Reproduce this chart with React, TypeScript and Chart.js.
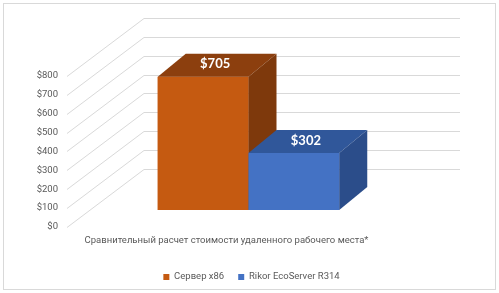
import React, { useEffect, useRef } from "react";
import { Chart, registerables } from "chart.js";

Chart.register(...registerables);

// ---- data ----
const categories = ["Сравнительный расчет стоимости удаленного рабочего места*"];
const seriesNames = ["Сервер x86", "Rikor EcoServer R314"];
const serverX86Values = [705];
const rikorValues = [302];
const yTickValues = [0, 100, 200, 300, 400, 500, 600, 700, 800];

// ---- styles ----
const FONT = "Roboto, 'Liberation Sans', sans-serif";
const LABEL_FONT = "Lato, Roboto, sans-serif";
const TEXT = "#595959";
const GRID = "#d9d9d9";
const faces = [
  { front: "#C55A11", top: "#8C3F0E", side: "#7E390C" },
  { front: "#4472C4", top: "#30579A", side: "#2B4D8A" },
];
const BAR_DX = 28;
const BAR_DY = -23;
const WALL_DX = 77;
const WALL_DY = -58;
const FRONT_SHIFT = 17; // front (axis) plane lies below the bar plane
const WALL_RIGHT = 460;

const gridPlugin = {
  id: "grid3d",
  beforeDraw(chart: any) {
    const ctx = chart.ctx;
    ctx.save();
    ctx.fillStyle = "#ffffff";
    ctx.fillRect(0, 0, chart.width, chart.height);
    ctx.strokeStyle = "#d9d9d9";
    ctx.lineWidth = 1;
    ctx.strokeRect(3.5, 3.5, chart.width - 7, chart.height - 7);
    ctx.restore();
  },
  beforeDatasetsDraw(chart: any) {
    const ctx = chart.ctx;
    const ys = chart.scales.y;
    const x0 = chart.chartArea.left;
    ctx.save();
    ctx.strokeStyle = GRID;
    ctx.lineWidth = 1;
    yTickValues.forEach((v) => {
      const fy = Math.round(ys.getPixelForValue(v) + FRONT_SHIFT) + 0.5;
      const by = fy + WALL_DY;
      ctx.beginPath();
      ctx.moveTo(x0, fy);
      ctx.lineTo(x0 + WALL_DX, by);
      ctx.lineTo(WALL_RIGHT, by);
      ctx.stroke();
    });
    ctx.restore();
  },
  afterDatasetsDraw(chart: any) {
    const ctx = chart.ctx;
    ctx.save();
    chart.data.datasets.forEach((ds: any, di: number) => {
      const meta = chart.getDatasetMeta(di);
      const f = faces[di];
      meta.data.forEach((bar: any, i: number) => {
        const { x, y, base, width } = bar.getProps(["x", "y", "base", "width"], true);
        const l = x - width / 2;
        const r = x + width / 2;
        // front
        ctx.fillStyle = f.front;
        ctx.fillRect(l, y, width, base - y);
        // top
        ctx.fillStyle = f.top;
        ctx.beginPath();
        ctx.moveTo(l, y);
        ctx.lineTo(r, y);
        ctx.lineTo(r + BAR_DX, y + BAR_DY);
        ctx.lineTo(l + BAR_DX, y + BAR_DY);
        ctx.closePath();
        ctx.fill();
        // side
        ctx.fillStyle = f.side;
        ctx.beginPath();
        ctx.moveTo(r, y);
        ctx.lineTo(r + BAR_DX, y + BAR_DY);
        ctx.lineTo(r + BAR_DX, base + BAR_DY);
        ctx.lineTo(r, base);
        ctx.closePath();
        ctx.fill();
        // label
        ctx.fillStyle = "#ffffff";
        ctx.font = `bold 13px ${LABEL_FONT}`;
        ctx.textAlign = "center";
        ctx.textBaseline = "middle";
        ctx.fillText("$" + ds.data[i], x + 12, y - 12.5);
      });
    });
    ctx.restore();
  },
};

export default function App() {
  const ref = useRef<HTMLCanvasElement>(null);
  useEffect(() => {
    if (!ref.current) return;
    const chart = new Chart(ref.current, {
      type: "bar",
      data: {
        labels: categories,
        datasets: [
          { label: seriesNames[0], data: serverX86Values, backgroundColor: faces[0].front, clip: false as any },
          { label: seriesNames[1], data: rikorValues, backgroundColor: faces[1].front, clip: false as any },
        ],
      },
      options: {
        animation: false,
        responsive: false,
        events: [],
        datasets: { bar: { categoryPercentage: 0.5, barPercentage: 1 } },
        layout: { padding: { left: 7, top: 58.8, right: 3, bottom: 1.25 } },
        scales: {
          x: {
            grid: { display: false, drawTicks: false },
            border: { display: false },
            ticks: {
              color: TEXT,
              font: { family: FONT, size: 9.5 },
              labelOffset: -22,
              padding: 24.5,
              maxRotation: 0,
              autoSkip: false,
            },
            afterFit: (s: any) => {
              s.height = 48.25;
            },
          },
          y: {
            min: 0,
            max: 800,
            grid: { display: false, drawTicks: false },
            border: { display: false },
            ticks: {
              stepSize: 100,
              color: TEXT,
              font: { family: FONT, size: 9.5 },
              padding: 9,
              labelOffset: FRONT_SHIFT,
              callback: (v: any) => "$" + v,
            },
            afterFit: (s: any) => {
              s.width = 60;
            },
          },
          yRight: {
            type: "linear",
            position: "right",
            grid: { display: false, drawTicks: false },
            border: { display: false },
            ticks: { display: false },
            afterFit: (s: any) => {
              s.width = 66;
            },
          },
        },
        plugins: {
          tooltip: { enabled: false },
          legend: {
            position: "bottom",
            labels: {
              color: TEXT,
              font: { family: FONT, size: 9.5 },
              boxWidth: 6,
              boxHeight: 6,
              padding: 14,
            },
          },
        },
      },
      plugins: [gridPlugin],
    });
    return () => chart.destroy();
  }, []);
  return (
    <div style={{ position: "absolute", left: 0, top: 0, width: 499, height: 293 }}>
      <canvas ref={ref} width={499} height={293} style={{ display: "block" }} />
    </div>
  );
}
